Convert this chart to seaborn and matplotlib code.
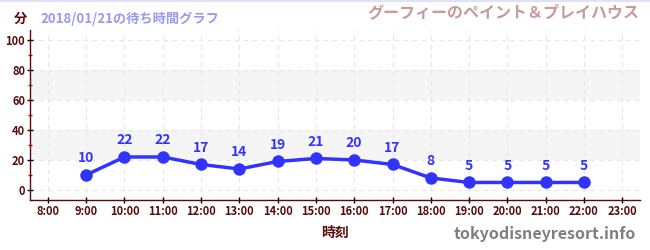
import pandas as pd
import seaborn as sns
import matplotlib.pyplot as plt
from matplotlib.lines import Line2D

# wait times
hours = [9, 10, 11, 12, 13, 14, 15, 16, 17, 18, 19, 20, 21, 22]
waits = [10, 22, 22, 17, 14, 19, 21, 20, 17, 8, 5, 5, 5, 5]
tick_hours = list(range(8, 24))
tick_labels = [f'{h}:00' for h in tick_hours]
y_ticks = [0, 20, 40, 60, 80, 100]

df = pd.DataFrame({'hour': hours, 'wait': waits})

sns.set_theme(style='white')
plt.rcParams['font.family'] = ['Noto Sans CJK JP', 'DejaVu Sans']

dark = '#5a0a0a'
blue = '#3333ff'

fig = plt.figure(figsize=(6.5, 2.5), dpi=100)
ax = fig.add_axes([0.046, 0.2, 0.939, 0.68])

# light bands
for lo, hi in [(20, 40), (60, 80)]:
    ax.axhspan(lo, hi, color='#f5f5f5', zorder=0, lw=0)

sns.lineplot(x='hour', y='wait', data=df, ax=ax, color=blue, lw=2.5,
             marker='o', markersize=9, markeredgewidth=0, zorder=3)

for h, w in zip(hours, waits):
    ax.annotate(str(w), (h, w), xytext=(0, 7), textcoords='offset points',
                ha='center', va='bottom', color=blue, fontsize=10,
                fontweight='bold', zorder=4)

ax.set_xlim(7.53, 23.47)
ax.set_ylim(-6.7, 106.7)
ax.set_xticks(tick_hours)
ax.set_xticklabels(tick_labels)
ax.set_yticks(y_ticks)
ax.set_yticks([10, 30, 50, 70, 90], minor=True)

ax.grid(True, which='major', color='#e6e6e6', ls=(0, (4, 4)), lw=0.8)
ax.set_axisbelow(True)

for s in ['top', 'right']:
    ax.spines[s].set_visible(False)
for s in ['left', 'bottom']:
    ax.spines[s].set_color(dark)
    ax.spines[s].set_linewidth(1)

ax.tick_params(axis='both', which='major', length=5, width=1, color='black',
               labelcolor=dark, pad=1, direction='inout')
ax.tick_params(axis='x', which='major', labelsize=8, bottom=True)
ax.tick_params(axis='y', which='major', labelsize=8, left=True)
ax.tick_params(axis='y', which='minor', length=3, width=1, color='#dd0000',
               left=True, direction='inout')
for lab in ax.get_xticklabels() + ax.get_yticklabels():
    lab.set_fontweight('bold')

ax.set_xlabel('時刻', color=dark, fontsize=10, fontweight='bold', labelpad=6)
ax.set_ylabel('')

fig.text(0.022, 0.925, '分', color=dark, fontsize=9.5, fontweight='bold',
         va='center')
fig.text(0.063, 0.925, '2018/01/21の待ち時間グラフ', color='#9999ee',
         fontsize=9.5, fontweight='bold', va='center')
fig.text(0.984, 0.95, 'グーフィーのペイント＆プレイハウス', color='#c99a9a',
         fontsize=11.5, fontweight='bold', ha='right', va='center')
fig.text(0.978, 0.065, 'tokyodisneyresort.info', color='#7f7f7f',
         fontsize=11.5, fontweight='bold', ha='right', va='center')

fig.add_artist(Line2D([0, 1], [0.997, 0.997], color='#e0e0f8', lw=1.5))

fig.savefig('out.png', dpi=100)
